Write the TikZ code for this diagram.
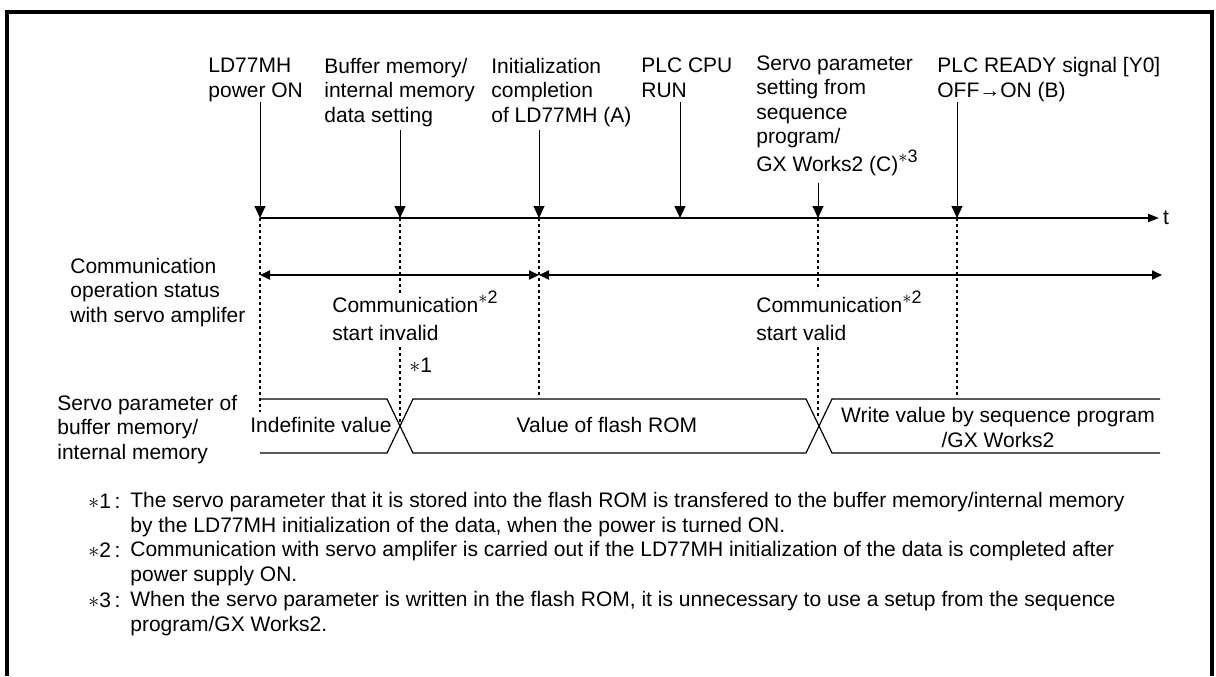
\documentclass[tikz,border=0pt]{standalone}
\usepackage{fontspec}
\setmainfont{Liberation Sans}
\usetikzlibrary{arrows.meta,positioning}
\newcommand{\notemark}[1]{\raisebox{0.75ex}{\small$\ast$#1}}

\begin{document}
\begin{tikzpicture}[x=0.5pt,y=-0.5pt,font=\fontsize{10.5}{12.25}\selectfont,
  lbl/.style={anchor=base west,align=left,inner sep=0pt},
  evarrow/.style={-{Triangle[length=6pt,width=5.5pt]},line width=0.5pt},
  guide/.style={line width=0.9pt,dash pattern=on 1.6pt off 1.4pt},
  span/.style={{Triangle[length=5pt,width=4.5pt]}-{Triangle[length=5pt,width=4.5pt]},line width=1pt},
  bus/.style={line width=0.6pt}]
  \useasboundingbox (0,0) rectangle (1216,676);
  % frame, open at the bottom
  \draw[line width=1.8pt] (7,676) -- (7,12) -- (1212,12) -- (1212,676);

  % events above the time axis (nodes sit on their last line)
  \node[lbl] (pwr) at (208,97) {LD77MH\\power ON};
  \node[lbl] (buf) at (324,122) {Buffer memory/\\internal memory\\data setting};
  \node[lbl] (init) at (491,122) {Initialization\\completion\\of LD77MH (A)};
  \node[lbl] (run) at (641,97) {PLC CPU\\RUN};
  \node[lbl] (sprm) at (756,171) {Servo parameter\\setting from\\sequence\\program/\\GX Works2 (C)\notemark{3}};
  \node[lbl] (rdy) at (937,97) {PLC READY signal [Y0]\\OFF→ON (B)};

  \coordinate (a1) at (260,102); \coordinate (t1) at (260,218);
  \coordinate (a2) at (400,130); \coordinate (t2) at (400,218);
  \coordinate (a3) at (539,130); \coordinate (t3) at (539,218);
  \coordinate (a4) at (680,102); \coordinate (t4) at (680,218);
  \coordinate (a5) at (818,183); \coordinate (t5) at (818,218);
  \coordinate (a6) at (957,102); \coordinate (t6) at (957,218);
  \coordinate (tend) at (1159,218);

  \draw[evarrow] (a1) -- (t1);
  \draw[evarrow] (a2) -- (t2);
  \draw[evarrow] (a3) -- (t3);
  \draw[evarrow] (a4) -- (t4);
  \draw[evarrow] (a5) -- (t5);
  \draw[evarrow] (a6) -- (t6);
  \draw[-{Triangle[length=5.5pt,width=4pt]},line width=1pt] (t1) -- (tend) node[right=1.5pt,inner sep=0pt] (tlbl) {t};

  % guide lines down to the waveform
  \coordinate (g1) at (260,412);
  \coordinate (g2a) at (400,293); \coordinate (g2b) at (400,347); \coordinate (g2) at (400,422);
  \coordinate (g3) at (539,398);
  \coordinate (g5a) at (818,290); \coordinate (g5b) at (818,347); \coordinate (g5) at (818,418);
  \coordinate (g6) at (957,398);
  \draw[guide] (t1) -- (g1);
  \draw[guide] (t2) -- (g2a); \draw[guide] (g2b) -- (g2);
  \draw[guide] (t3) -- (g3);
  \draw[guide] (t5) -- (g5a); \draw[guide] (g5b) -- (g5);
  \draw[guide] (t6) -- (g6);

  % communication status
  \node[lbl] (comlbl) at (70,322) {Communication\\operation status\\with servo amplifer};
  \coordinate (c1) at (260,275); \coordinate (c2) at (539,275); \coordinate (c3) at (1162,275);
  \draw[span] (c1) -- (c2);
  \draw[span] (c2) -- (c3);
  \node[lbl] (inv) at (332,340) {Communication\notemark{2}\\[1.75pt]start invalid};
  \node[lbl] (val) at (756,340) {Communication\notemark{2}\\[1.75pt]start valid};
  \node[lbl] (n1) at (409,372) {$\ast$1};

  % servo parameter waveform
  \node[lbl] (prmlbl) at (57,459) {Servo parameter of\\buffer memory/\\internal memory};
  \draw[bus] (260,399) -- (387,399) -- (413,453) -- (806,453) -- (832,399) -- (1160,399);
  \draw[bus] (260,453) -- (387,453) -- (413,399) -- (806,399) -- (832,453) -- (1160,453);
  \node[anchor=base,inner sep=0pt] (indef) at (321,432) {Indefinite value};
  \node[anchor=base,inner sep=0pt] (flash) at (607,432) {Value of flash ROM};
  \node[anchor=base,align=center,inner sep=0pt] (wr) at (998,447) {Write value by sequence program\\/GX Works2};

  % notes
  \node[lbl] (m1) at (88,508) {$\ast$1\,:};
  \node[lbl] (fn1) at (130,532) {The servo parameter that it is stored into the flash ROM is transfered to the buffer memory/internal memory\\by the LD77MH initialization of the data, when the power is turned ON.};
  \node[lbl] (m2) at (88,557) {$\ast$2\,:};
  \node[lbl] (fn2) at (130,581) {Communication with servo amplifer is carried out if the LD77MH initialization of the data is completed after\\power supply ON.};
  \node[lbl] (m3) at (88,607) {$\ast$3\,:};
  \node[lbl] (fn3) at (130,631) {When the servo parameter is written in the flash ROM, it is unnecessary to use a setup from the sequence\\program/GX Works2.};
\end{tikzpicture}
\end{document}
